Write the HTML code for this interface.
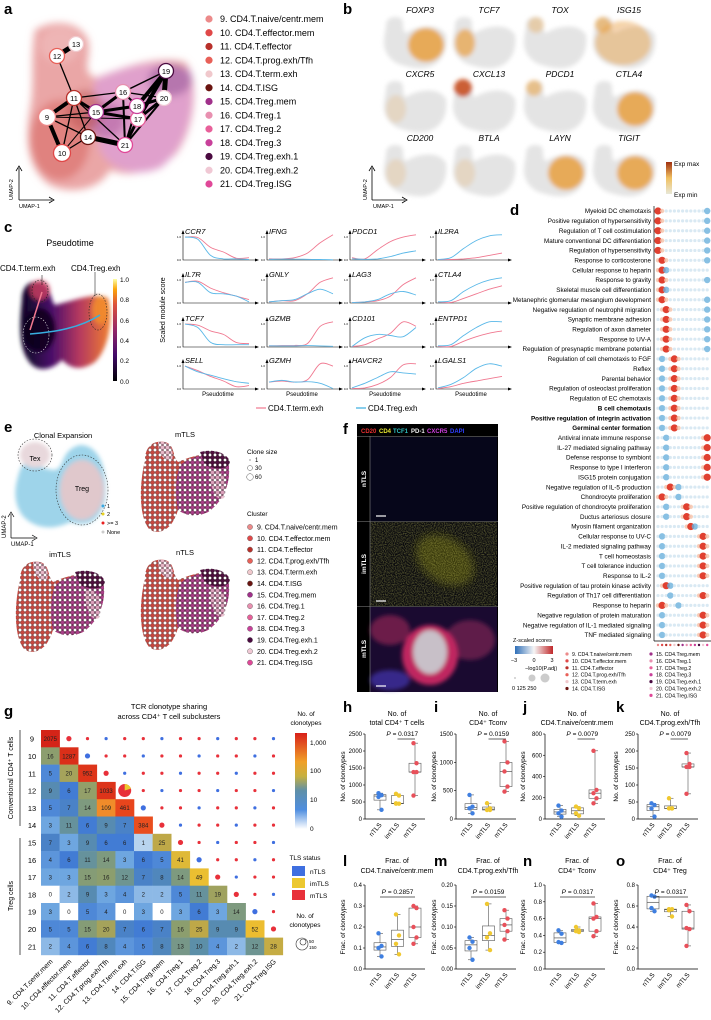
<!DOCTYPE html>
<html><head><meta charset="utf-8">
<style>
html,body{margin:0;padding:0;background:#fff;}
svg{display:block;font-family:"Liberation Sans",Arial,sans-serif;}
.pl{font-weight:bold;font-size:15px;}
</style></head>
<body>
<svg id="fig" width="711" height="1020" viewBox="0 0 711 1020" xmlns="http://www.w3.org/2000/svg">
<defs>
  <filter id="blur4"><feGaussianBlur stdDeviation="4"/></filter>
  <filter id="blur2"><feGaussianBlur stdDeviation="2"/></filter>
  <filter id="noise" x="0" y="0" width="100%" height="100%">
    <feTurbulence type="fractalNoise" baseFrequency="0.9" numOctaves="1" seed="3"/>
    <feColorMatrix type="matrix" values="0 0 0 0 1  0 0 0 0 1  0 0 0 0 0.2  0 0 0 -3 1.9"/>
  </filter>
  <linearGradient id="expg" x1="0" y1="1" x2="0" y2="0"><stop offset="0" stop-color="#e8e8d8"/><stop offset="0.5" stop-color="#f0c060"/><stop offset="1" stop-color="#a03010"/></linearGradient>
  <linearGradient id="infg" x1="0" y1="1" x2="0" y2="0"><stop offset="0" stop-color="#000004"/><stop offset="0.25" stop-color="#420a68"/><stop offset="0.5" stop-color="#932667"/><stop offset="0.75" stop-color="#dd513a"/><stop offset="0.9" stop-color="#fca50a"/><stop offset="1" stop-color="#fcffa4"/></linearGradient>
  <linearGradient id="infh" x1="0" y1="0" x2="1" y2="0"><stop offset="0" stop-color="#0a0420"/><stop offset="0.35" stop-color="#4a0f6a"/><stop offset="0.65" stop-color="#b43860"/><stop offset="1" stop-color="#f08030"/></linearGradient>
  <linearGradient id="zg" x1="0" y1="0" x2="1" y2="0"><stop offset="0" stop-color="#2f6fb8"/><stop offset="0.5" stop-color="#f6f6f6"/><stop offset="1" stop-color="#c0282a"/></linearGradient>
  <linearGradient id="hmg" x1="0" y1="1" x2="0" y2="0"><stop offset="0" stop-color="#ffffff"/><stop offset="0.2" stop-color="#4f8ee0"/><stop offset="0.4" stop-color="#5f8fa8"/><stop offset="0.55" stop-color="#c6b040"/><stop offset="0.7" stop-color="#f0a028"/><stop offset="1" stop-color="#d8201a"/></linearGradient>
  <pattern id="cellsR" width="5" height="5" patternUnits="userSpaceOnUse"><circle cx="2.5" cy="2.5" r="2.1" fill="#c84840" stroke="#5a1a18" stroke-width="0.5"/></pattern>
  <pattern id="cellsP" width="5" height="5" patternUnits="userSpaceOnUse"><circle cx="2.5" cy="2.5" r="2.1" fill="#a84088" stroke="#3a1030" stroke-width="0.5"/></pattern>
  <pattern id="cellsL" width="5" height="5" patternUnits="userSpaceOnUse"><circle cx="2.5" cy="2.5" r="2.1" fill="#e8b8c8" stroke="#604050" stroke-width="0.5"/></pattern>
  <pattern id="cellsD" width="5" height="5" patternUnits="userSpaceOnUse"><circle cx="2.5" cy="2.5" r="2.1" fill="#501040" stroke="#200818" stroke-width="0.5"/></pattern>
</defs>

<g>
  <text class="pl" x="4" y="14">a</text>
  <g filter="url(#blur4)">
    <path d="M35,30 C55,18 80,22 88,40 C92,60 80,70 95,78 C120,70 150,55 185,62 C200,80 195,130 175,155 C150,172 130,178 110,170 C100,190 70,195 50,185 C28,170 25,140 30,110 C35,85 30,60 35,30Z" fill="#eaa6a6"/>
    <path d="M95,80 C125,65 165,58 190,70 C198,110 185,150 160,168 C135,178 110,170 100,150 C95,120 92,100 95,80Z" fill="#e0a0cc"/>
    <ellipse cx="170" cy="80" rx="22" ry="16" fill="#9a5a9a" opacity="0.6"/>
    <ellipse cx="105" cy="120" rx="20" ry="18" fill="#b060a0" opacity="0.6"/>
    <ellipse cx="60" cy="140" rx="30" ry="40" fill="#d86a66" opacity="0.6"/>
    <ellipse cx="85" cy="110" rx="18" ry="20" fill="#b85050" opacity="0.5"/>
    <ellipse cx="60" cy="45" rx="20" ry="18" fill="#f0c0c0" opacity="0.6"/>
  </g>
  <g id="graphA"></g>
  <g stroke="#000" stroke-width="0.8" fill="none">
    <path d="M19,200 V168 M16,171 L19,166 L22,171"/>
    <path d="M19,200 H52 M49,197 L54,200 L49,203"/>
  </g>
  <text x="13" y="200" font-size="5.5" transform="rotate(-90 13 200)">UMAP-2</text>
  <text x="19" y="208" font-size="5.5">UMAP-1</text>
  <g id="legendA"></g>
</g>

<g>
  <text class="pl" x="343" y="14">b</text>
  <g id="featB"></g>
  <g stroke="#000" stroke-width="0.8" fill="none">
    <path d="M372,200 V168 M369,171 L372,166 L375,171"/>
    <path d="M372,200 H405 M402,197 L407,200 L402,203"/>
  </g>
  <text x="367" y="200" font-size="5.5" transform="rotate(-90 367 200)">UMAP-2</text>
  <text x="373" y="208" font-size="5.5">UMAP-1</text>
  <rect x="666" y="162" width="6" height="32" fill="url(#expg)"/>
  <text x="674" y="166" font-size="6.5">Exp max</text>
  <text x="674" y="197" font-size="6.5">Exp min</text>
</g>

<g>
  <text class="pl" x="4" y="232">c</text>
  <text x="70" y="246" font-size="9" text-anchor="middle">Pseudotime</text>
  <text x="0" y="271" font-size="8">CD4.T.term.exh</text>
  <text x="71" y="271" font-size="8">CD4.Treg.exh</text>
  <g>
    <g filter="url(#blur2)">
      <path d="M22,300 C22,282 35,278 45,285 C52,290 50,300 55,305 C75,300 95,292 108,298 C114,320 108,350 95,362 C80,372 70,368 62,360 C50,372 35,372 28,360 C18,345 20,320 22,300Z" fill="url(#infh)"/>
      <ellipse cx="40" cy="330" rx="16" ry="22" fill="#0a0418" opacity="0.8"/>
      <ellipse cx="40" cy="290" rx="10" ry="10" fill="#d04060" opacity="0.8"/>
      <ellipse cx="100" cy="310" rx="8" ry="14" fill="#f4902a" opacity="0.8"/>
    </g>
    <ellipse cx="40" cy="291" rx="8" ry="11" fill="none" stroke="#222" stroke-dasharray="1.5,1.5" stroke-width="0.6"/>
    <ellipse cx="36" cy="335" rx="13" ry="18" fill="none" stroke="#ddd" stroke-dasharray="1.5,1.5" stroke-width="0.6"/>
    <ellipse cx="98" cy="312" rx="9" ry="18" fill="none" stroke="#222" stroke-dasharray="1.5,1.5" stroke-width="0.6"/>
    <path d="M30,330 L42,292" stroke="#f07890" stroke-width="1.5" fill="none"/>
    <path d="M30,334 C55,332 80,328 100,315" stroke="#38aee0" stroke-width="1.5" fill="none"/>
    <path d="M42,275 L42,285 M95,272 L95,296" stroke="#000" stroke-width="0.5"/>
  </g>
  <rect x="113" y="279" width="4" height="102" fill="url(#infg)"/>
  <g font-size="6.5">
    <text x="120" y="282">1.0</text><text x="120" y="302">0.8</text><text x="120" y="323">0.6</text><text x="120" y="343">0.4</text><text x="120" y="363">0.2</text><text x="120" y="384">0.0</text>
  </g>
  <text x="165" y="310" font-size="7" text-anchor="middle" transform="rotate(-90 165 310)">Scaled module score</text>
  <g id="linesC"></g>
  <g>
    <line x1="256" y1="408" x2="266" y2="408" stroke="#f07890" stroke-width="1.2"/>
    <text x="268" y="411" font-size="8">CD4.T.term.exh</text>
    <line x1="356" y1="408" x2="366" y2="408" stroke="#38aee0" stroke-width="1.2"/>
    <text x="368" y="411" font-size="8">CD4.Treg.exh</text>
  </g>
</g>

<g>
  <text class="pl" x="510" y="215">d</text>
  <line x1="654" y1="206" x2="654" y2="641" stroke="#000" stroke-width="0.7"/>
  <line x1="654" y1="641" x2="711" y2="641" stroke="#000" stroke-width="0.7"/>
  <g id="dotD"></g>
  <text x="513" y="642" font-size="5.5">Z-scaled scores</text>
  <rect x="515" y="646" width="38" height="8" fill="url(#zg)"/>
  <g font-size="5.5"><text x="514" y="662" text-anchor="middle">−3</text><text x="534" y="662" text-anchor="middle">0</text><text x="552" y="662" text-anchor="middle">3</text>
  <text x="525" y="670">−log10(P.adj)</text>
  <circle cx="515" cy="678" r="1" fill="#ccc"/><circle cx="532" cy="678" r="3.5" fill="#ccc"/><circle cx="545" cy="678" r="4.5" fill="#ccc"/>
  <text x="512" y="690">0  125  250</text></g>
  <g id="legD"></g>
</g>

<g>
  <text class="pl" x="4" y="432">e</text>
  <text x="63" y="438" font-size="7.5" text-anchor="middle">Clonal Expansion</text>
  <g>
    <g filter="url(#blur2)">
      <path d="M20,470 C25,455 40,470 55,470 C65,468 60,450 80,445 C100,445 108,470 105,500 C100,520 90,528 70,522 C55,530 35,530 22,515 C12,500 15,485 20,470Z" fill="#9ed4ea"/>
      <ellipse cx="35" cy="455" rx="15" ry="13" fill="#e8d8dc"/>
      <ellipse cx="82" cy="490" rx="22" ry="30" fill="#e0c8cc"/>
    </g>
    <ellipse cx="35" cy="455" rx="17" ry="16" fill="none" stroke="#333" stroke-dasharray="1.5,1.5" stroke-width="0.6"/>
    <ellipse cx="82" cy="490" rx="26" ry="35" fill="none" stroke="#333" stroke-dasharray="1.5,1.5" stroke-width="0.6"/>
    <text x="35" y="461" font-size="7" text-anchor="middle">Tex</text>
    <text x="82" y="491" font-size="7" text-anchor="middle">Treg</text>
    <g font-size="5.5"><circle cx="103" cy="506" r="1.5" fill="#3aa8e0"/><text x="107" y="508">1</text>
    <circle cx="103" cy="514" r="1.5" fill="#e8d020"/><text x="107" y="516">2</text>
    <circle cx="103" cy="523" r="1.5" fill="#e82020"/><text x="107" y="525">&gt;= 3</text>
    <circle cx="103" cy="532" r="1.5" fill="#ccc"/><text x="107" y="534">None</text></g>
    <path d="M11,538 V514 M8,517 L11,512 L14,517 M11,538 H35 M32,535 L37,538 L32,541" stroke="#000" stroke-width="0.7" fill="none"/>
    <text x="6" y="538" font-size="6" transform="rotate(-90 6 538)">UMAP-2</text>
    <text x="11" y="546" font-size="6">UMAP-1</text>
  </g>
  <g id="tlsUmaps"></g>
  <g font-size="6">
    <text x="247" y="454" font-size="6.5">Clone size</text>
    <circle cx="250" cy="460" r="0.6" fill="#555"/><text x="255" y="462">1</text>
    <circle cx="250" cy="468" r="2.5" fill="none" stroke="#555" stroke-width="0.5"/><text x="255" y="470">30</text>
    <circle cx="250" cy="477" r="3.3" fill="none" stroke="#555" stroke-width="0.5"/><text x="255" y="479">60</text>
    <text x="247" y="516" font-size="6.5">Cluster</text>
  </g>
  <g id="legE"></g>
</g>

<g>
  <text class="pl" x="343" y="434">f</text>
  <rect x="357" y="424" width="141" height="268" fill="#000"/>
  <g font-size="6" font-weight="bold">
    <text x="361" y="433" fill="#e83030">CD20</text><text x="379" y="433" fill="#e8e830">CD4</text><text x="393" y="433" fill="#30c0c0">TCF1</text><text x="411" y="433" fill="#eee">PD-1</text><text x="427" y="433" fill="#d040e0">CXCR5</text><text x="450" y="433" fill="#3040ff">DAPI</text>
  </g>
  <rect x="370" y="437" width="127" height="84" fill="#06061a"/>
  <rect x="370" y="522" width="127" height="84" fill="#0a0a0e"/>
  <ellipse cx="445" cy="560" rx="32" ry="22" fill="#5a5a10" opacity="0.6" filter="url(#blur4)" transform="rotate(35 445 560)"/>
  <rect x="370" y="522" width="127" height="84" filter="url(#noise)" opacity="0.25"/>
  <rect x="370" y="607" width="127" height="85" fill="#1a0a30"/>
  <g filter="url(#blur2)">
    <ellipse cx="390" cy="630" rx="20" ry="15" fill="#802050" opacity="0.8"/>
    <ellipse cx="470" cy="640" rx="25" ry="20" fill="#702050" opacity="0.8"/>
    <ellipse cx="430" cy="655" rx="28" ry="30" fill="#c02860"/>
    <ellipse cx="430" cy="652" rx="17" ry="22" fill="#c8c0c8"/>
    <ellipse cx="390" cy="680" rx="20" ry="10" fill="#4030a0" opacity="0.8"/>
  </g>
  <g stroke="#888" stroke-width="0.6"><line x1="357" y1="521.5" x2="498" y2="521.5"/><line x1="357" y1="606.5" x2="498" y2="606.5"/><line x1="370" y1="436" x2="370" y2="692"/><line x1="357" y1="436.5" x2="498" y2="436.5"/></g>
  <g fill="#fff" font-size="6.5" font-weight="bold">
    <text x="366" y="479" transform="rotate(-90 366 479)" text-anchor="middle">nTLS</text>
    <text x="366" y="564" transform="rotate(-90 366 564)" text-anchor="middle">imTLS</text>
    <text x="366" y="649" transform="rotate(-90 366 649)" text-anchor="middle">mTLS</text>
  </g>
  <g stroke="#fff" stroke-width="1.2"><line x1="376" y1="516" x2="386" y2="516"/><line x1="376" y1="601" x2="386" y2="601"/><line x1="376" y1="686" x2="386" y2="686"/></g>
</g>

<g>
  <text class="pl" x="4" y="716">g</text>
  <text x="169" y="709" font-size="7.5" text-anchor="middle">TCR clonotype sharing</text>
  <text x="169" y="719" font-size="7.5" text-anchor="middle">across CD4⁺ T cell subclusters</text>
  <g id="heatG"></g>
  <line x1="20" y1="730" x2="20" y2="826" stroke="#555" stroke-width="1"/>
  <line x1="20" y1="838" x2="20" y2="955" stroke="#555" stroke-width="1"/>
  <text x="13" y="778" font-size="7" text-anchor="middle" transform="rotate(-90 13 778)">Conventional CD4⁺ T cells</text>
  <text x="13" y="896" font-size="7" text-anchor="middle" transform="rotate(-90 13 896)">Treg cells</text>
  <g font-size="6.5">
    <text x="306" y="716" text-anchor="middle">No. of</text><text x="306" y="725" text-anchor="middle">clonotypes</text>
    <rect x="295" y="733" width="12" height="96" fill="url(#hmg)"/>
    <text x="310" y="745">1,000</text><text x="310" y="773">100</text><text x="310" y="802">10</text><text x="310" y="831">0</text>
    <text x="305" y="860" text-anchor="middle">TLS status</text>
    <rect x="292" y="866" width="13" height="10" fill="#3f6fe0"/><text x="310" y="874">nTLS</text>
    <rect x="292" y="878" width="13" height="10" fill="#ecc830"/><text x="310" y="886">imTLS</text>
    <rect x="292" y="890" width="13" height="10" fill="#e8303a"/><text x="310" y="898">mTLS</text>
    <text x="305" y="918" text-anchor="middle">No. of</text><text x="305" y="927" text-anchor="middle">clonotypes</text>
    <circle cx="302" cy="944" r="6" fill="none" stroke="#333" stroke-width="0.6"/><circle cx="303" cy="942" r="3" fill="none" stroke="#333" stroke-width="0.6"/>
    <text x="309" y="943" font-size="4.5">50</text><text x="309" y="949" font-size="4.5">150</text>
  </g>
</g>

<g id="boxes"></g>
</svg>

<script>
var NS = "http://www.w3.org/2000/svg";
function mk(tag, attrs, parent) {
  var e = document.createElementNS(NS, tag);
  for (var k in attrs) e.setAttribute(k, attrs[k]);
  if (parent) parent.appendChild(e);
  return e;
}
function txt(x, y, s, size, parent, extra) {
  var t = mk("text", Object.assign({x: x, y: y, "font-size": size}, extra || {}), parent);
  t.textContent = s;
  return t;
}

var clusterNames = ["9. CD4.T.naive/centr.mem","10. CD4.T.effector.mem","11. CD4.T.effector","12. CD4.T.prog.exh/Tfh","13. CD4.T.term.exh","14. CD4.T.ISG","15. CD4.Treg.mem","16. CD4.Treg.1","17. CD4.Treg.2","18. CD4.Treg.3","19. CD4.Treg.exh.1","20. CD4.Treg.exh.2","21. CD4.Treg.ISG"];
var clusterColors = ["#ec8a8a","#e04848","#b8302a","#e86058","#f0c8cc","#6a1410","#a0308a","#e890b0","#e8609a","#c8409a","#4a0a40","#f0c8d4","#e04898"];
var nodeIds = [9,10,11,12,13,14,15,16,17,18,19,20,21];
var nodeX = [47,62,74,57,76,88,96,123,138,137,166,164,125];
var nodeY = [117,153,98,56,44,137,112,92,119,106,71,98,145];
var edgeFrom = [12,12,11,11,11,11,11,11,9,9,9,10,14,15,15,15,16,16,16,16,18,17,18,17,19,21,21,21,9,10];
var edgeTo   = [13,11,9,10,14,15,16,21,15,10,14,14,21,16,18,17,18,19,21,20,19,19,20,20,20,17,18,20,17,15];
var edgeW    = [5,1.3,4,1.3,1.3,3,1.3,1.3,1.3,4,1.3,1.3,5,3,3,3,2,1.5,2,1.3,4,4,3,3,5,3,2,2,1,1];

var gA = document.getElementById("graphA");
function nodeIdx(id){ return nodeIds.indexOf(id); }
for (var i = 0; i < edgeFrom.length; i++) {
  var a = nodeIdx(edgeFrom[i]), b = nodeIdx(edgeTo[i]);
  var ln = mk("line", {x1: nodeX[a], y1: nodeY[a], x2: nodeX[b], y2: nodeY[b], stroke: "#000", "stroke-width": edgeW[i]}, gA);
  
  
}
for (var i = 0; i < nodeIds.length; i++) {
  var c = mk("circle", {cx: nodeX[i], cy: nodeY[i], r: nodeIds[i]===10||nodeIds[i]===9?8.5:7.5, fill: "#fff", stroke: clusterColors[i], "stroke-width": 1.3}, gA);
  
  
  txt(nodeX[i], nodeY[i]+2.8, String(nodeIds[i]), 7.5, gA, {"text-anchor": "middle"});
}
var legA = document.getElementById("legendA");
for (var i = 0; i < clusterNames.length; i++) {
  var y = 19 + i*13.75;
  var d = mk("circle", {cx: 209, cy: y, r: 3.6, fill: clusterColors[i]}, legA);
  
  
  var t = txt(220, y+3.2, clusterNames[i], 9, legA);
  
  
}

var genesB = ["FOXP3","TCF7","TOX","ISG15","CXCR5","CXCL13","PDCD1","CTLA4","CD200","BTLA","LAYN","TIGIT"];
var hotSpotB = ["right","leftmid","light","all","faint","top","topfaint","right","faint","faint","right","right"];
var gB = document.getElementById("featB");
var colX = [384,453,524,593], rowY = [15,79,143];
for (var i = 0; i < genesB.length; i++) {
  var x0 = colX[i%4], y0 = rowY[Math.floor(i/4)];
  var g = mk("g", {transform: "translate("+x0+","+y0+")"}, gB);
  
  
  var bl = mk("g", {filter: "url(#blur2)"}, g);
  mk("path", {d: "M2,10 C2,2 12,0 18,4 C20,10 18,16 22,18 C35,10 55,8 62,20 C64,35 58,48 45,52 C35,55 25,52 18,50 C8,48 0,38 0,28 C0,20 2,15 2,10Z", fill: "#e4e4e4"}, bl);
  var hs = hotSpotB[i], col = "#e8a040";
  if (hs==="right") mk("ellipse", {cx: 42, cy: 30, rx: 18, ry: 17, fill: col, opacity: 0.85}, bl);
  if (hs==="leftmid") mk("ellipse", {cx: 12, cy: 28, rx: 10, ry: 14, fill: col, opacity: 0.7}, bl);
  if (hs==="all") { mk("ellipse", {cx: 30, cy: 28, rx: 28, ry: 22, fill: col, opacity: 0.45}, bl); mk("ellipse", {cx: 10, cy: 10, rx: 8, ry: 8, fill: col, opacity: 0.6}, bl); }
  if (hs==="light") mk("ellipse", {cx: 12, cy: 10, rx: 8, ry: 8, fill: col, opacity: 0.35}, bl);
  if (hs==="faint") mk("ellipse", {cx: 12, cy: 30, rx: 10, ry: 14, fill: col, opacity: 0.2}, bl);
  if (hs==="top") mk("ellipse", {cx: 10, cy: 9, rx: 9, ry: 9, fill: "#c85020", opacity: 0.9}, bl);
  if (hs==="topfaint") mk("ellipse", {cx: 10, cy: 9, rx: 8, ry: 8, fill: col, opacity: 0.55}, bl);
  txt(36, -2, genesB[i], 8.5, g, {"font-style": "italic", "text-anchor": "middle"});
}

var genesC = ["CCR7","IFNG","PDCD1","IL2RA","IL7R","GNLY","LAG3","CTLA4","TCF7","GZMB","CD101","ENTPD1","SELL","GZMH","HAVCR2","LGALS1"];
var termExh = [
 [1,0.98,0.55,0.35,0.08,0.1],[0.05,0.05,0.1,0.3,0.75,1.1],[0.1,0.05,0.45,0.8,1,1.1],[0.02,0.02,0.05,0.1,0.2,0.3],
 [0.9,0.95,0.65,0.45,0.3,0.15],[0.05,0.1,0.1,0.4,0.9,1.1],[0.02,0.05,0.1,0.3,0.8,1.1],[0.05,0.02,0.2,0.4,0.6,0.75],
 [1,0.95,0.7,0.55,0.2,0.15],[0.05,0.06,0.07,0.15,0.9,1.1],[0.02,0.1,0.35,0.6,1.1,0.9],[0.03,0.02,0.25,0.45,0.6,0.7],
 [1,0.8,0.55,0.35,0.1,0.15],[0.3,0.35,0.3,0.4,1.1,1.0],[0.02,0.05,0.2,0.5,1.05,1.1],[0.02,0.1,0.25,0.35,0.45,0.55]];
var tregExh = [
 [1,0.9,0.2,0.05,0.05,0.02],[0.03,0.04,0.04,0.03,0.02,0.01],[0.05,0.03,0.05,0.15,0.3,0.4],[0.02,0.1,0.5,0.85,1.05,1.1],
 [0.9,0.9,0.45,0.4,0.3,0.05],[0.05,0.1,0.15,0.4,0.6,0.4],[0.02,0.05,0.15,0.4,0.5,0.35],[0.05,0.1,0.5,0.8,1,1.1],
 [1,0.85,0.2,0.1,0.1,0.1],[0.05,0.05,0.05,0.06,0.05,0.03],[0.02,0.4,0.55,0.5,0.45,0.85],[0.05,0.1,0.5,0.85,1.1,1.1],
 [1,0.75,0.6,0.45,0.32,0.25],[0.3,0.38,0.3,0.32,0.25,0.02],[0.05,0.25,0.5,0.75,0.7,0.65],[0.05,0.2,0.5,0.9,1.1,1.0]];
var gC = document.getElementById("linesC");
var cCols = [183,267,350,436], cBottoms = [260,303,347,389], cW = 70, cH = 27;
function smoothPath(px, py) {
  var d = "M" + px[0] + "," + py[0];
  for (var i = 0; i < px.length-1; i++) {
    var p0x = px[Math.max(i-1,0)], p0y = py[Math.max(i-1,0)];
    var p3x = px[Math.min(i+2,px.length-1)], p3y = py[Math.min(i+2,px.length-1)];
    var c1x = px[i] + (px[i+1]-p0x)/6, c1y = py[i] + (py[i+1]-p0y)/6;
    var c2x = px[i+1] - (p3x-px[i])/6, c2y = py[i+1] - (p3y-py[i])/6;
    d += " C" + c1x.toFixed(1)+","+c1y.toFixed(1)+" "+c2x.toFixed(1)+","+c2y.toFixed(1)+" "+px[i+1]+","+py[i+1].toFixed(1);
  }
  return d;
}
for (var i = 0; i < genesC.length; i++) {
  var ax = cCols[i%4], ab = cBottoms[Math.floor(i/4)];
  var g = mk("g", {}, gC);
  
  
  mk("path", {d: "M"+ax+","+(ab-cH-2)+" V"+ab+" H"+(ax+cW+4), stroke: "#000", "stroke-width": 0.6, fill: "none"}, g);
  mk("path", {d: "M"+(ax-1.5)+","+(ab-cH+1)+" L"+ax+","+(ab-cH-3)+" L"+(ax+1.5)+","+(ab-cH+1)+"Z M"+(ax+cW+2)+","+(ab-1.5)+" L"+(ax+cW+6)+","+ab+" L"+(ax+cW+2)+","+(ab+1.5)+"Z", fill: "#000"}, g);
  txt(ax-2, ab-cH*0.85+1, "1.0", 3, g, {"text-anchor": "end"});
  txt(ax-2, ab+1, "0.0", 3, g, {"text-anchor": "end"});
  txt(ax+2, ab-cH+1, genesC[i], 7.5, g, {"font-style": "italic"});
  var series = [termExh[i], tregExh[i]], cols = ["#f07890","#5ab8e8"];
  for (var s = 0; s < 2; s++) {
    var px = [], py = [];
    for (var k = 0; k < series[s].length; k++) {
      px.push(ax + 2 + k*(cW-6)/(series[s].length-1));
      py.push(ab - series[s][k]*cH*0.85);
    }
    var p = mk("path", {d: smoothPath(px, py), stroke: cols[s], "stroke-width": 0.9, fill: "none"}, g);
    
    
  }
  if (Math.floor(i/4) === 3) txt(ax+cW/2, ab+7, "Pseudotime", 6, g, {"text-anchor": "middle"});
}

var termsD = ["Myeloid DC chemotaxis","Positive regulation of hypersensitivity","Regulation of T cell costimulation","Mature conventional DC differentiation","Regulation of hypersensitivity","Response to corticosterone","Cellular response to heparin","Response to gravity","Skeletal muscle cell differentiation","Metanephric glomerular mesangium development","Negative regulation of neutrophil migration","Synaptic membrane adhesion","Regulation of axon diameter","Response to UV-A","Regulation of presynaptic membrane potential","Regulation of cell chemotaxis to FGF","Reflex","Parental behavior","Regulation of osteoclast proliferation","Regulation of EC chemotaxis","B cell chemotaxis","Positive regulation of integrin activation","Germinal center formation","Antiviral innate immune response","IL-27 mediated signaling pathway","Defense response to symbiont","Response to type I interferon","ISG15 protein conjugation","Negative regulation of IL-5 production","Chondrocyte proliferation","Positive regulation of chondrocyte proliferation","Ductus arteriosus closure","Myosin filament organization","Cellular response to UV-C","IL-2 mediated signaling pathway","T cell homeostasis","T cell tolerance induction","Response to IL-2","Positive regulation of tau protein kinase activity","Regulation of Th17 cell differentiation","Response to heparin","Negative regulation of protein maturation","Negative regulation of IL-1 mediated signaling","TNF mediated signaling"];
var boldD = [20,21,22];
var hotColD = [0,0,0,0,0,1,1,1,1,1,2,2,2,2,2,4,4,4,4,4,4,4,4,12,12,12,12,12,3,1,7,7,8,11,11,11,11,11,2,11,1,11,11,11];
var coldColD = [12,12,12,12,12,12,2,12,2,12,12,12,12,12,12,1,1,1,1,1,1,1,1,2,2,2,2,2,5,5,2,2,9,1,1,1,1,1,3,3,5,1,1,1];
var gD = document.getElementById("dotD");
function dColX(c){ return 658 + c*4.1; }
for (var r = 0; r < termsD.length; r++) {
  var y = 211 + r*9.86;
  var t = txt(651, y+2.2, termsD[r], 6.3, gD, {"text-anchor": "end"});
  if (boldD.indexOf(r) >= 0) t.setAttribute("font-weight", "bold");
  
  
  for (var c = 0; c < 13; c++) {
    var fill = "#cfe4f0", rad = 1.6, op = 0.8;
    if (Math.abs(c - hotColD[r]) === 1) { fill = "#f4c0a8"; rad = 2.2; }
    if (c === hotColD[r]) { fill = "#e04030"; rad = 3.6; op = 1; }
    if (c === coldColD[r]) { fill = "#6ab0dc"; rad = 3.2; }
    var dot = mk("circle", {cx: dColX(c), cy: y, r: rad, fill: fill, opacity: op}, gD);
    
    
  }
}
for (var c = 0; c < 13; c++) mk("circle", {cx: dColX(c), cy: 645, r: 1.2, fill: clusterColors[c]}, gD);
var legD = document.getElementById("legD");
for (var i = 0; i < 13; i++) {
  var colIdx = i < 6 ? 0 : 1, row = i < 6 ? i : i-6;
  var x = colIdx ? 651 : 567, y = 654 + row*6.9;
  mk("circle", {cx: x, cy: y, r: 1.6, fill: clusterColors[i]}, legD);
  txt(x+5, y+2, clusterNames[i], 5.2, legD);
}

var tlsNames = ["mTLS","imTLS","nTLS"];
var tlsX = [140,15,140], tlsY = [440,560,558];
var gE = document.getElementById("tlsUmaps");
for (var i = 0; i < 3; i++) {
  var g = mk("g", {transform: "translate("+tlsX[i]+","+tlsY[i]+")"}, gE);
  
  
  txt(45, -3, tlsNames[i], 7.5, g, {"text-anchor": "middle"});
  mk("path", {d: "M5,20 C5,5 15,0 25,2 C35,5 32,15 38,22 C55,14 78,10 88,20 C92,40 85,60 68,72 C55,78 45,75 38,70 C32,90 20,95 10,90 C0,80 -2,50 5,20Z", fill: "url(#cellsR)"}, g);
  mk("path", {d: "M40,25 C55,14 78,10 88,20 C92,40 85,60 68,72 C55,78 45,75 38,70 C35,55 35,40 40,25Z", fill: "url(#cellsP)"}, g);
  mk("path", {d: "M60,12 C75,8 88,14 90,22 C88,30 75,30 65,25Z", fill: "url(#cellsD)"}, g);
  mk("path", {d: "M18,2 C28,0 35,8 32,20 C25,22 18,15 18,2Z", fill: "url(#cellsL)"}, g);
  mk("path", {d: "M70,30 C82,28 90,40 84,58 C76,62 70,50 70,30Z", fill: "url(#cellsL)", opacity: 0.8}, g);
}
var legE = document.getElementById("legE");
for (var i = 0; i < 13; i++) {
  var y = 527 + i*11.3;
  var c = mk("circle", {cx: 250, cy: y, r: 2.6, fill: clusterColors[i], stroke: "#555", "stroke-width": 0.4}, legE);
  
  
  txt(257, y+2.5, clusterNames[i], 7, legE);
}

var hmLabels = ["9","10","11","12","13","14","15","16","17","18","19","20","21"];
var hmColLabels = ["9. CD4.T.centr.mem","10. CD4.effector.mem","11. CD4.T.effector","12. CD4.T.prog.exh/Tfh","13. CD4.T.term.exh","14. CD4.T.ISG","15. CD4.Treg.mem","16. CD4.Treg.1","17. CD4.Treg.2","18. CD4.Treg.3","19. CD4.Treg.exh.1","20. CD4.Treg.exh.2","21. CD4.Treg.ISG"];
var hmRows = [
 [2075],
 [16,1287],
 [5,20,952],
 [9,6,17,1033],
 [5,7,14,109,461],
 [3,11,6,9,7,384],
 [7,3,9,6,6,1,25],
 [4,6,11,14,3,6,5,41],
 [3,3,15,16,12,7,8,14,49],
 [0,2,9,3,4,2,2,5,11,19],
 [3,0,5,4,0,3,0,3,6,3,14],
 [5,5,15,20,7,6,7,16,25,9,9,52],
 [2,4,6,8,4,5,8,13,10,4,2,12,28]];
var hmStops = [[0,[255,255,255]],[1,[184,212,238]],[3,[110,166,224]],[6,[66,124,212]],[10,[92,143,168]],[16,[140,158,110]],[25,[190,168,72]],[50,[236,192,48]],[110,[240,138,42]],[450,[232,70,28]],[2100,[212,36,24]]];
function hmColor(v) {
  var lv = Math.log(v+1);
  for (var i = 0; i < hmStops.length-1; i++) {
    var a = Math.log(hmStops[i][0]+1), b = Math.log(hmStops[i+1][0]+1);
    if (lv <= b) {
      var t = (lv-a)/(b-a), ca = hmStops[i][1], cb = hmStops[i+1][1];
      return "rgb(" + [0,1,2].map(function(k){return Math.round(ca[k]+(cb[k]-ca[k])*t);}).join(",") + ")";
    }
  }
  return "rgb(212,36,24)";
}
var gG = document.getElementById("heatG");
var hx0 = 41, hy0 = 730, cw = 18.6, ch = 17.3;
for (var r = 0; r < hmRows.length; r++) {
  txt(32, hy0 + r*ch + ch/2 + 3, hmLabels[r], 7.5, gG, {"text-anchor": "middle"});
  for (var c = 0; c < hmRows[r].length; c++) {
    var v = hmRows[r][c];
    var cell = mk("rect", {x: hx0 + c*cw, y: hy0 + r*ch, width: cw+0.3, height: ch+0.3, fill: hmColor(v)}, gG);
    
    
    txt(hx0 + c*cw + cw/2, hy0 + r*ch + ch/2 + 2.3, String(v), 6, gG, {"text-anchor": "middle", fill: "#222"});
  }
  for (var c = r+1; c < 13; c++) {
    var big = (r===3 && c===4);
    var dot = mk("circle", {cx: hx0 + c*cw + cw/2, cy: hy0 + r*ch + ch/2, r: big ? 6.5 : (c-r===1 ? 2.6 : 1.6), fill: (c+r)%3===0 ? "#3f6fe0" : "#e8303a"}, gG);
    
    
    if (big) mk("path", {d: "M"+(hx0+c*cw+cw/2)+","+(hy0+r*ch+ch/2)+" l0,-6.5 a6.5,6.5 0 0,1 6.3,4.5 z", fill: "#ecc830"}, gG);
  }
}
for (var c = 0; c < 13; c++) {
  var x = hx0 + c*cw + cw/2 + 3, y = 962;
  var t = txt(x, y, hmColLabels[c], 7, gG, {"text-anchor": "end", transform: "rotate(-45 "+x+" "+y+")"});
  
  
}

var boxLetters = ["h","i","j","k","l","m","n","o"];
var boxTitle1 = ["No. of","No. of","No. of","No. of","Frac. of","Frac. of","Frac. of","Frac. of"];
var boxTitle2 = ["total CD4⁺ T cells","CD4⁺ Tconv","CD4.T.naive/centr.mem","CD4.T.prog.exh/Tfh","CD4.T.naive/centr.mem","CD4.T.prog.exh/Tfh","CD4⁺ Tconv","CD4⁺ Treg"];
var boxPval = ["0.0317","0.0159","0.0079","0.0079","0.2857","0.0159","0.0317","0.0317"];
var boxYMax = [2500,1500,800,250,0.4,0.2,1.0,0.8];
var boxTicks = [
 ["0","500","1000","1500","2000","2500"],["0","500","1000","1500"],["0","200","400","600","800"],["0","50","100","150","200","250"],
 ["0.0","0.1","0.2","0.3","0.4"],["0.00","0.05","0.10","0.15","0.20"],["0.0","0.2","0.4","0.6","0.8","1.0"],["0.0","0.2","0.4","0.6","0.8"]];
var nTLSvals = [[760,700,650,270],[425,218,189,100],[126,79,54,22],[46,41,31,7],[0.17,0.11,0.10,0.06],[0.075,0.065,0.05,0.022],[0.46,0.42,0.32,0.31],[0.70,0.69,0.58,0.55]];
var imTLSvals = [[740,690,460,450,450],[278,189,159,159],[117,101,54,31],[61,31,31,31],[0.26,0.16,0.12,0.07],[0.155,0.085,0.075,0.045],[0.50,0.46,0.45,0.44],[0.57,0.57,0.56,0.50]];
var mTLSvals = [[2230,1640,1380,1380,690],[1370,998,839,573,484],[642,274,243,195,148],[194,162,153,153,74],[0.30,0.29,0.20,0.15,0.12],[0.14,0.12,0.105,0.09,0.07],[0.78,0.62,0.60,0.45,0.39],[0.61,0.55,0.39,0.38,0.22]];
var boxAxisX = [365,456,545,638,365,456,545,638];
var grpColors = ["#3f7fe0","#f0c830","#e8505a"];
var grpNames = ["nTLS","imTLS","mTLS"];
var gBox = document.getElementById("boxes");
function quant(arr, q) {
  var s = arr.slice().sort(function(a,b){return a-b;});
  var pos = (s.length-1)*q, lo = Math.floor(pos), hi = Math.ceil(pos);
  return s[lo] + (s[hi]-s[lo])*(pos-lo);
}
function makeScale(t, z, m){ return function(v){ return z - (v/m)*(z-t); }; }
for (var p = 0; p < 8; p++) {
  var yTop = p < 4 ? 734 : 885, yZero = p < 4 ? 819 : 969;
  var ax = boxAxisX[p];
  var yScale = makeScale(yTop, yZero, boxYMax[p]);
  var g = mk("g", {}, gBox);
  
  
  var ly = p < 4 ? 712 : 866;
  txt(ax - 22, ly, boxLetters[p], 15, g, {"font-weight": "bold"});
  var cx = ax + 32;
  txt(cx, p<4?716:863, boxTitle1[p], 7, g, {"text-anchor": "middle"});
  txt(cx, p<4?725:873, boxTitle2[p], 7, g, {"text-anchor": "middle"});
  mk("path", {d: "M"+ax+","+yTop+" V"+yZero+" H"+(ax+60), stroke: "#000", "stroke-width": 0.7, fill: "none"}, g);
  var ticks = boxTicks[p];
  for (var k = 0; k < ticks.length; k++) {
    var v = parseFloat(ticks[k]), y = yScale(v);
    mk("line", {x1: ax-2, y1: y, x2: ax, y2: y, stroke: "#000", "stroke-width": 0.6}, g);
    txt(ax-3, y+2, ticks[k], 6, g, {"text-anchor": "end"});
  }
  var ylx = ax - 20, yly = (yTop+yZero)/2;
  txt(ylx, yly, p<4 ? "No. of clonotypes" : "Frac. of clonotypes", 6.5, g, {"text-anchor": "middle", transform: "rotate(-90 "+ylx+" "+yly+")"});
  var groups = [nTLSvals[p], imTLSvals[p], mTLSvals[p]];
  for (var k = 0; k < 3; k++) {
    var gx = ax + 15 + k*17.5, vals = groups[k];
    var mn = Math.min.apply(null, vals), mx = Math.max.apply(null, vals);
    var q1 = quant(vals, 0.25), q2 = quant(vals, 0.5), q3 = quant(vals, 0.75);
    mk("line", {x1: gx, y1: yScale(mx), x2: gx, y2: yScale(mn), stroke: "#555", "stroke-width": 0.6}, g);
    var bx = mk("rect", {x: gx-6, y: yScale(q3), width: 12, height: Math.max(0.5, yScale(q1)-yScale(q3)), fill: "#fff", stroke: "#555", "stroke-width": 0.6}, g);
    
    
    mk("line", {x1: gx-6, y1: yScale(q2), x2: gx+6, y2: yScale(q2), stroke: "#555", "stroke-width": 0.7}, g);
    mk("line", {x1: gx-3, y1: yScale(mx), x2: gx+3, y2: yScale(mx), stroke: "#555", "stroke-width": 0.6}, g);
    mk("line", {x1: gx-3, y1: yScale(mn), x2: gx+3, y2: yScale(mn), stroke: "#555", "stroke-width": 0.6}, g);
    for (var j = 0; j < vals.length; j++) {
      var pt = mk("circle", {cx: gx + ((j%2)?1.5:-1.5), cy: yScale(vals[j]), r: 2.2, fill: grpColors[k]}, g);
      
      
    }
    var lx = gx + 2, lyy = yZero + 6;
    txt(lx, lyy, grpNames[k], 6.5, g, {"text-anchor": "end", transform: "rotate(-50 "+lx+" "+lyy+")"});
  }
  var x1 = p < 4 ? ax + 32.5 : ax + 15, x2 = ax + 50;
  var pyLine = p < 4 ? 739 : 897;
  mk("line", {x1: x1, y1: pyLine, x2: x2, y2: pyLine, stroke: "#333", "stroke-width": 0.7}, g);
  var pt2 = txt((x1+x2)/2 + (p<4?-4:0), pyLine - 3, "", 6.5, g, {"text-anchor": "middle"});
  var ts = mk("tspan", {"font-style": "italic"}, pt2); ts.textContent = "P";
  var ts2 = mk("tspan", {}, pt2); ts2.textContent = " = " + boxPval[p];
}
</script>
</body></html>
